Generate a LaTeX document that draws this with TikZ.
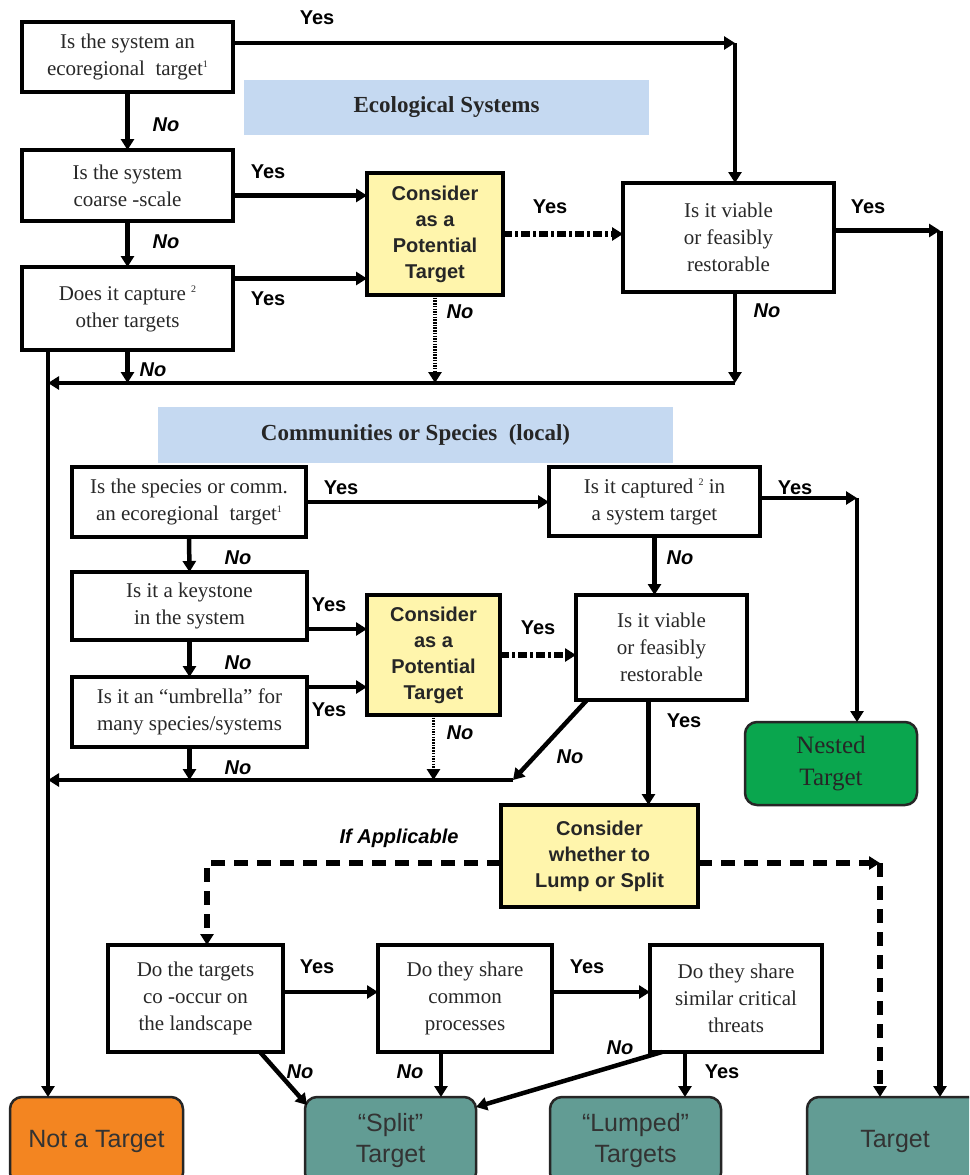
\documentclass[tikz,border=0pt]{standalone}
\usepackage{fontspec}
\setmainfont{Liberation Serif}
\newfontfamily\arialf{Liberation Sans}
\usetikzlibrary{arrows.meta}
\definecolor{boxyellow}{RGB}{255,245,172}
\definecolor{bandblue}{RGB}{197,217,241}
\definecolor{nestgreen}{RGB}{10,166,78}
\definecolor{tealbox}{RGB}{98,156,148}
\definecolor{orangebox}{RGB}{243,133,33}
\definecolor{txtgray}{RGB}{40,40,40}
\newcommand\mysup[1]{\raisebox{8pt}{\fontsize{10}{10}\selectfont #1}}
\begin{document}
\begin{tikzpicture}[x=1pt,y=-1pt,
 box/.style={draw=black, line width=4pt, fill=white, align=center, inner sep=2pt, outer sep=0pt, text=txtgray, font=\fontsize{21}{27}\selectfont},
 ybox/.style={box, fill=boxyellow, text=black!85, font=\arialf\bfseries\fontsize{20}{26}\selectfont},
 band/.style={fill=bandblue, inner sep=0pt, outer sep=0pt, text=black!85, font=\bfseries\fontsize{23}{27}\selectfont},
 endbox/.style={draw=black!85, line width=2.5pt, rounded corners=12pt, align=center, outer sep=0pt, text=black!80, font=\arialf\fontsize{25}{31}\selectfont},
 conn/.style={line width=4.5pt, -{Triangle[length=11pt,width=13pt]}},
 heavy/.style={line width=5.5pt},
 dashdot/.style={line width=5.5pt, dash pattern=on 9pt off 3pt on 3pt off 3pt},
 dotln/.style={line width=3.5pt, dash pattern=on 1.5pt off 1.2pt},
 dashedln/.style={line width=5.5pt, dash pattern=on 14pt off 9pt},
 yes/.style={font=\arialf\bfseries\fontsize{20}{20}\selectfont, inner sep=0pt},
 no/.style={font=\arialf\bfseries\itshape\fontsize{20}{20}\selectfont, inner sep=0pt},
]
\useasboundingbox (0,0) rectangle (969,1175);
\clip (0,0) rectangle (969,1175);
\fill[white] (0,0) rectangle (969,1175);

% bands
\node[band, minimum width=405pt, minimum height=55pt] (band1) at (446.5,107.5) {Ecological Systems};
\node[band, minimum width=515pt, minimum height=56pt] (band2) at (415.5,435) {Communities or Species\ \ (local)};

% ecological system boxes
\node[box, minimum width=211pt, minimum height=70pt] (A) at (127.5,57) {Is the system an\\ecoregional\ \ target\mysup{1}};
\node[box, minimum width=211pt, minimum height=71pt] (B) at (127.5,185.5) {Is the system\\coarse -scale};
\node[box, minimum width=211pt, minimum height=83pt] (C) at (127.5,308.5) {Does it capture \mysup{2}\\other targets};
\node[ybox, minimum width=136pt, minimum height=122pt] (P1) at (435,234) {Consider\\as a\\Potential\\Target};
\node[box, minimum width=211pt, minimum height=109pt] (V1) at (728.5,237.5) {Is it viable\\or feasibly\\restorable};

% community boxes
\node[box, minimum width=234pt, minimum height=70pt] (D) at (189,502) {Is the species or comm.\\an ecoregional\ \ target\mysup{1}};
\node[box, minimum width=235pt, minimum height=68pt] (E) at (189.5,606) {Is it a keystone\\in the system};
\node[box, minimum width=235pt, minimum height=70pt] (F) at (189.5,712) {Is it an “umbrella” for\\many species/systems};
\node[ybox, minimum width=133pt, minimum height=120pt] (P2) at (433.5,655) {Consider\\as a\\Potential\\Target};
\node[box, minimum width=211pt, minimum height=69pt] (Cap) at (654.5,501.5) {Is it captured \mysup{2} in\\a system target};
\node[box, minimum width=171pt, minimum height=105pt] (V2) at (661.5,647.5) {Is it viable\\or feasibly\\restorable};
\node[endbox, fill=nestgreen, font=\rmfamily\fontsize{25}{32}\selectfont, text=black!85, minimum width=172pt, minimum height=83pt] (Nested) at (831,763.5) {Nested\\Target};
\node[ybox, minimum width=197pt, minimum height=102pt] (LS) at (599.5,856) {Consider\\whether to\\Lump or Split};

% lump/split boxes
\node[box, minimum width=175pt, minimum height=107pt] (G) at (195.5,998.5) {Do the targets\\co -occur on\\the landscape};
\node[box, minimum width=174pt, minimum height=107pt] (H) at (465,998.5) {Do they share\\common\\processes};
\node[box, minimum width=172pt, minimum height=107pt] (I) at (736,998.5) {Do they share\\similar critical\\threats};

% end boxes
\node[endbox, fill=orangebox, minimum width=173pt, minimum height=88pt] (NotT) at (96.5,1141) {Not a Target};
\node[endbox, fill=tealbox, minimum width=171pt, minimum height=88pt] (Split) at (390.5,1141) {“Split”\\Target};
\node[endbox, fill=tealbox, minimum width=171pt, minimum height=88pt] (Lumped) at (635.5,1141) {“Lumped”\\Targets};
\node[endbox, fill=tealbox, minimum width=176pt, minimum height=88pt] (Target) at (895,1141) {Target};

% coordinates
\coordinate (c1) at (735,43);
\coordinate (bY) at ([yshift=-10pt]B.east);
\coordinate (cY) at ([yshift=30pt]C.east);
\coordinate (v1Y) at ([yshift=7pt]V1.east);
\coordinate (c2) at (940,230.5);
\coordinate (b1R) at (735,383);
\coordinate (b1L) at (48,383);
\coordinate (vL) at (48,350);
\coordinate (c3) at (857,498);
\coordinate (eY) at ([yshift=-23pt]E.east);
\coordinate (fY) at ([yshift=25pt]F.east);
\coordinate (b2R) at (513,780);
\coordinate (b2L) at (48,780);
\coordinate (v2x) at ([xshift=-13pt]V2.south);
\coordinate (lsW) at ([yshift=-7pt]LS.west);
\coordinate (c4) at (207,863);
\coordinate (lsE) at ([yshift=-7pt]LS.east);
\coordinate (c5) at (880,863);
\coordinate (gY) at ([yshift=6.5pt]G.east);
\coordinate (hY) at ([yshift=6.5pt]H.east);
\coordinate (hX) at ([xshift=-24pt]H.south);
\coordinate (iX) at ([xshift=-51pt]I.south);

% ecological connectors
\draw[conn] (A.east |- c1) -- (c1);
\draw[conn] (c1) -- (c1 |- V1.north);
\draw[conn] (A.south) -- (B.north);
\draw[conn,heavy] (bY) -- (bY -| P1.west);
\draw[conn] (B.south) -- (C.north);
\draw[conn,heavy] (cY) -- (cY -| P1.west);
\draw[conn,dashdot] (P1.east) -- (P1.east -| V1.west);
\draw[conn,heavy] (v1Y) -- (c2);
\draw[conn,heavy] (c2) -- (c2 |- Target.north);
\draw[conn,dotln] (P1.south) -- (P1.south |- b1L);
\draw[conn] (V1.south -| b1R) -- (b1R);
\draw[conn] (b1R) -- (b1L);
\draw[conn] (C.south) -- (C.south |- b1L);
\draw[conn] (vL) -- (vL |- NotT.north);

% community connectors
\draw[conn] (D.east) -- (D.east -| Cap.west);
\draw[conn] (Cap.east |- c3) -- (c3);
\draw[conn] (c3) -- (c3 |- Nested.north);
\draw[conn] (Cap.south) -- (Cap.south |- V2.north);
\draw[conn,dashdot] (P2.east) -- (P2.east -| V2.west);
\draw[conn] (eY) -- (eY -| P2.west);
\draw[conn] (fY) -- (fY -| P2.west);
\draw[conn] (D.south) -- (E.north);
\draw[conn] (E.south) -- (F.north);
\draw[conn] (F.south) -- (F.south |- b2L);
\draw[conn,dotln] (P2.south) -- (P2.south |- b2L);
\draw[conn] ([xshift=11pt]V2.south west) -- (b2R);
\draw[conn] (b2R) -- (b2L);
\draw[conn,heavy] (v2x) -- (v2x |- LS.north);

% lump or split connectors
\draw[conn,dashedln] (lsW) -- (c4) -- (c4 |- G.north);
\draw[conn,dashedln] (lsE) -- (c5);
\draw[conn,dashedln] (c5) -- (c5 |- Target.north);
\draw[conn] (gY) -- (gY -| H.west);
\draw[conn] (hY) -- (hY -| I.west);
\draw[conn] ([xshift=-23pt]G.south east) -- ([xshift=2pt,yshift=-8pt]Split.north west);
\draw[conn] (hX) -- (hX |- Split.north);
\draw[conn] ([xshift=12pt]I.south west) -- ([yshift=-10pt]Split.north east);
\draw[conn] (iX) -- (iX |- Lumped.north);

% labels
\node[yes] (l1) at (317,18) {Yes};
\node[no]  (l2) at (166,125) {No};
\node[yes] (l3) at (268,172) {Yes};
\node[no]  (l4) at (166,242) {No};
\node[yes] (l5) at (268,299) {Yes};
\node[yes] (l6) at (550,207) {Yes};
\node[yes] (l7) at (868,207) {Yes};
\node[no]  (l8) at (460,312) {No};
\node[no]  (l9) at (767,311) {No};
\node[no]  (l10) at (153,370) {No};
\node[yes] (l11) at (341,488) {Yes};
\node[yes] (l12) at (795,488) {Yes};
\node[no]  (l13) at (680,558) {No};
\node[no]  (l14) at (238,558) {No};
\node[yes] (l15) at (329,605) {Yes};
\node[yes] (l16) at (538,628) {Yes};
\node[no]  (l17) at (238,663) {No};
\node[yes] (l18) at (329,710) {Yes};
\node[yes] (l19) at (684,721) {Yes};
\node[no]  (l20) at (460,733) {No};
\node[no]  (l21) at (570,757) {No};
\node[no]  (l22) at (238,768) {No};
\node[no]  (l23) at (399,838) {If Applicable};
\node[yes] (l24) at (317,967) {Yes};
\node[yes] (l25) at (587,967) {Yes};
\node[no]  (l26) at (620,1048) {No};
\node[no]  (l27) at (300,1072) {No};
\node[no]  (l28) at (410,1072) {No};
\node[yes] (l29) at (722,1072) {Yes};
\end{tikzpicture}
\end{document}
